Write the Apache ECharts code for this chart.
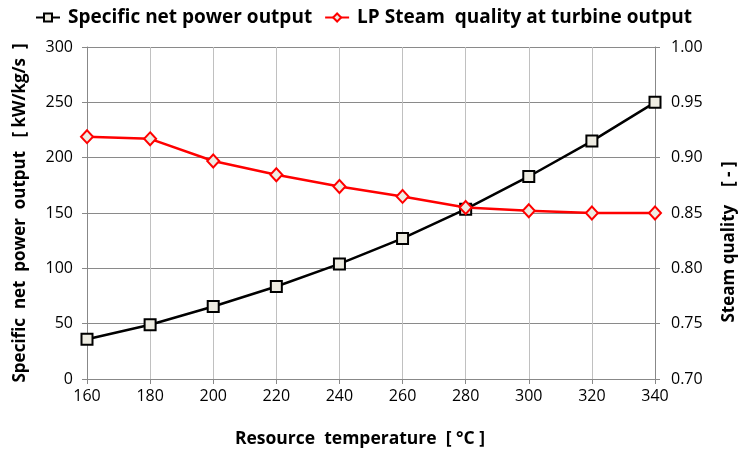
<!DOCTYPE html>
<html><head><meta charset="utf-8">
<script src="https://cdn.jsdelivr.net/npm/echarts@6/dist/echarts.min.js"></script>
<style>html,body{margin:0;padding:0;background:#fff}#c{width:744px;height:452px}</style>
</head><body><div id="c"></div>
<script>
const temperatures = [160,180,200,220,240,260,280,300,320,340];
const powerOutput = [36,49,65.5,83.6,104,127,153.5,183,215,250];
const steamQuality = [0.919,0.917,0.897,0.8845,0.874,0.865,0.855,0.852,0.850,0.850];
const leftTitle = 'Specific  net  power  output   [ kW/kg/s  ]';
const rightTitle = 'Steam quality    [ - ]';
const xTitle = 'Resource  temperature  [ °C ]';
const FONT = '"Open Sans", sans-serif';
const chart = echarts.init(document.getElementById('c'));
chart.setOption({
  animation:false,
  textStyle:{fontFamily:FONT},
  legend:{
    top:3, left:30,
    itemWidth:24, itemHeight:10, itemGap:12,
    textStyle:{fontFamily:FONT,fontWeight:'bold',fontSize:19,color:'#000',padding:[0,0,0,3]},
    data:['Specific net power output','LP Steam  quality at turbine output']
  },
  grid:{left:87,right:89,top:47,bottom:73},
  graphic:[{
    type:'text', x:729, y:242, rotation:Math.PI/2,
    style:{text:rightTitle,fontFamily:FONT,fontWeight:'bold',fontSize:17,fill:'#000',
      textAlign:'center',textVerticalAlign:'middle'}
  },{
    type:'text', x:360, y:439,
    style:{text:xTitle,fontFamily:FONT,fontWeight:'bold',fontSize:17.5,fill:'#000',
      textAlign:'center',textVerticalAlign:'middle'}
  }],
  xAxis:{
    type:'value',min:160,max:340,interval:20,
    axisLine:{lineStyle:{color:'#888'}},
    axisTick:{show:true,length:5,lineStyle:{color:'#888'}},
    axisLabel:{fontFamily:FONT,fontSize:16,color:'#000',margin:9},
    splitLine:{show:true,lineStyle:{color:'#c0c0c0',width:1}}
  },
  yAxis:[{
    type:'value',min:0,max:300,interval:50,
    name:leftTitle,nameLocation:'middle',nameGap:58,
    nameTextStyle:{fontFamily:FONT,fontWeight:'bold',fontSize:17,color:'#000'},
    axisLine:{show:true,lineStyle:{color:'#888'}},
    axisTick:{show:true,length:5,lineStyle:{color:'#888'}},
    axisLabel:{fontFamily:FONT,fontSize:16,color:'#000',margin:14},
    splitLine:{show:true,lineStyle:{color:'#8a8a8a',width:1}}
  },{
    type:'value',min:0.70,max:1.00,interval:0.05,position:'right',
    axisLine:{show:true,lineStyle:{color:'#888'}},
    axisTick:{show:true,length:5,lineStyle:{color:'#888'}},
    axisLabel:{fontFamily:FONT,fontSize:16,color:'#000',margin:16,formatter:v=>v.toFixed(2)},
    splitLine:{show:false}
  }],
  series:[{
    name:'Specific net power output',type:'line',yAxisIndex:0,
    data:temperatures.map((t,i)=>[t,powerOutput[i]]),
    symbol:'rect',symbolSize:11,
    lineStyle:{color:'#000',width:2.5},
    itemStyle:{color:'#eeece2',borderColor:'#000',borderWidth:2},
    z:3
  },{
    name:'LP Steam  quality at turbine output',type:'line',yAxisIndex:1,
    data:temperatures.map((t,i)=>[t,steamQuality[i]]),
    symbol:'diamond',symbolSize:[12,13],
    lineStyle:{color:'#ff0000',width:2.5},
    itemStyle:{color:'#eeece2',borderColor:'#ff0000',borderWidth:2},
    z:4
  }]
});
</script></body></html>
